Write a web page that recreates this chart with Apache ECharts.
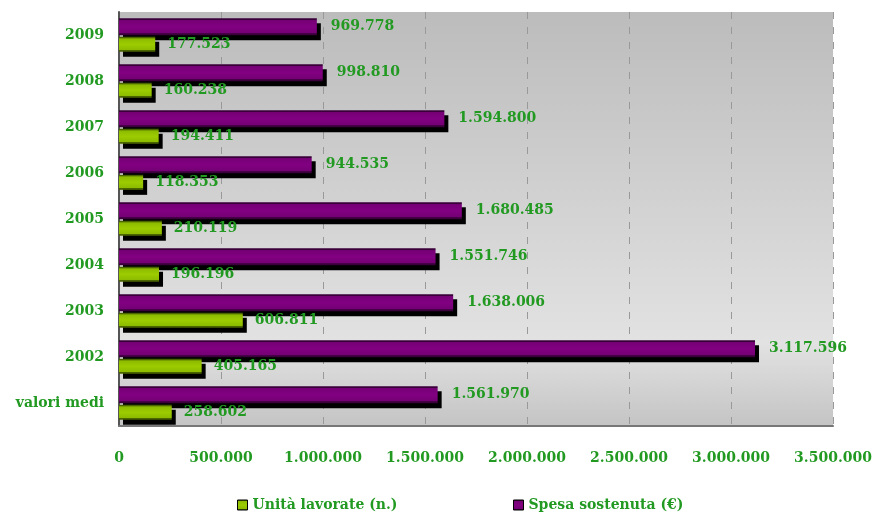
<!DOCTYPE html>
<html>
<head>
<meta charset="utf-8">
<script src="https://cdn.jsdelivr.net/npm/echarts@6/dist/echarts.min.js"></script>
<style>
  html, body { margin: 0; padding: 0; background: #ffffff; }
  #chart { width: 875px; height: 515px; }
</style>
</head>
<body>
<div id="chart"></div>
<script>
const categories = ["valori medi", "2002", "2003", "2004", "2005", "2006", "2007", "2008", "2009"];
const unitaLavorate = [258602, 405165, 606811, 196196, 210119, 118353, 194411, 160238, 177523];
const spesaSostenuta = [1561970, 3117596, 1638006, 1551746, 1680485, 944535, 1594800, 998810, 969778];
const xTicks = [0, 500000, 1000000, 1500000, 2000000, 2500000, 3000000, 3500000];

const textGreen = "#229a22";
const fontFamily = "DejaVu Serif";

function fmt(v) {
  return String(v).replace(/\B(?=(\d{3})+(?!\d))/g, ".");
}

// vertical gradient with dark edges to fake the thin border
function barFill(edge, mid, low) {
  return {
    type: "linear", x: 0, y: 0, x2: 0, y2: 1,
    colorStops: [
      { offset: 0, color: edge },
      { offset: 0.09, color: edge },
      { offset: 0.12, color: low },
      { offset: 0.5, color: mid },
      { offset: 0.88, color: low },
      { offset: 0.91, color: edge },
      { offset: 1, color: edge },
    ],
  };
}

const chart = echarts.init(document.getElementById("chart"));

const barShadow = {
  shadowColor: "#000000",
  shadowBlur: 0,
  shadowOffsetX: 4,
  shadowOffsetY: 5,
};

const legendIcon = {
  borderColor: "#000", borderWidth: 1,
  shadowBlur: 0, shadowOffsetX: 0, shadowOffsetY: 0, shadowColor: "transparent",
};

const legendText = { color: textGreen, fontFamily, fontWeight: "bold", fontSize: 14 };

const option = {
  animation: false,
  grid: {
    left: 119,
    right: 41,
    top: 12,
    bottom: 89,
    show: true,
    borderWidth: 0,
    backgroundColor: {
      type: "linear",
      x: 0, y: 0, x2: 0, y2: 1,
      colorStops: [
        { offset: 0, color: "#bcbcbc" },
        { offset: 0.8, color: "#e2e2e2" },
        { offset: 1, color: "#c4c4c4" },
      ],
    },
  },
  legend: [
    {
      data: ["Unità lavorate (n.)"],
      left: 237,
      top: 498,
      padding: 0,
      icon: "rect",
      itemWidth: 10,
      itemHeight: 10,
      itemGap: 6,
      itemStyle: legendIcon,
      textStyle: legendText,
    },
    {
      data: ["Spesa sostenuta (€)"],
      left: 513,
      top: 498,
      padding: 0,
      icon: "rect",
      itemWidth: 10,
      itemHeight: 10,
      itemGap: 6,
      itemStyle: legendIcon,
      textStyle: legendText,
    },
  ],
  xAxis: {
    type: "value",
    min: xTicks[0],
    max: xTicks[xTicks.length - 1],
    interval: 500000,
    axisLine: { show: true, lineStyle: { color: "#777", width: 2 } },
    axisTick: { show: false },
    axisLabel: {
      color: textGreen,
      fontFamily,
      fontWeight: "bold",
      fontSize: 14,
      margin: 25,
      formatter: (v) => fmt(v),
    },
    splitLine: {
      show: true,
      lineStyle: { color: "#999", type: [7, 8], width: 1 },
    },
  },
  yAxis: {
    type: "category",
    data: categories,
    axisLine: { show: true, lineStyle: { color: "#555", width: 2 } },
    axisTick: { show: false },
    axisLabel: {
      color: textGreen,
      fontFamily,
      fontWeight: "bold",
      fontSize: 14,
      margin: 15,
    },
    splitLine: { show: false },
  },
  series: [
    {
      name: "Spesa sostenuta (€)",
      type: "bar",
      data: spesaSostenuta,
      barWidth: 17,
      barGap: "10%",
      itemStyle: Object.assign({
        color: barFill("#3a003a", "#820082", "#740074"),
      }, barShadow),
      label: {
        show: true,
        position: "right",
        distance: 14,
        color: textGreen,
        fontFamily,
        fontWeight: "bold",
        fontSize: 14,
        formatter: (p) => fmt(p.value),
      },
    },
    {
      name: "Unità lavorate (n.)",
      type: "bar",
      data: unitaLavorate,
      barWidth: 15,
      itemStyle: Object.assign({
        color: barFill("#4a6400", "#9ccc00", "#8cba00"),
      }, barShadow),
      label: {
        show: true,
        position: "right",
        distance: 12,
        color: textGreen,
        fontFamily,
        fontWeight: "bold",
        fontSize: 14,
        formatter: (p) => fmt(p.value),
      },
    },
  ],
};

chart.setOption(option);
</script>
</body>
</html>
